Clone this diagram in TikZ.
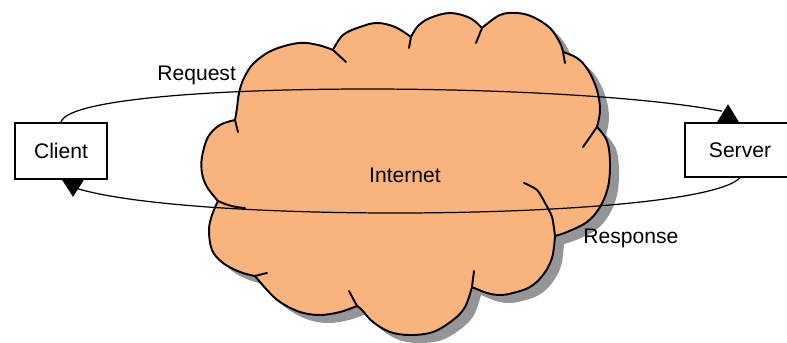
\documentclass[tikz,border=0pt]{standalone}
\usepackage{fontspec}
\setmainfont{Liberation Sans}
\usetikzlibrary{calc}

\definecolor{cloudfill}{RGB}{248,180,124}
\definecolor{cloudshade}{RGB}{147,149,152}

% cloud outline, one smooth plot per puff
\newcommand{\netcloud}{%
  plot[smooth,tension=0.6] coordinates {(235,-120) (237,-108) (239,-93) (244,-78) (254,-63) (273,-50) (299,-43) (318,-45) (333,-50)}
  -- plot[smooth,tension=0.6] coordinates {(333,-50) (343,-35) (360,-27) (377,-23) (395,-27) (411,-37)}
  -- plot[smooth,tension=0.6] coordinates {(411,-37) (418,-26) (430,-18) (450,-13) (470,-18) (482,-28)}
  -- plot[smooth,tension=0.6] coordinates {(482,-28) (500,-15) (517,-13) (533,-17) (550,-28) (560,-43) (563,-52)}
  -- plot[smooth,tension=0.6] coordinates {(563,-52) (577,-58) (588,-70) (597,-90) (600,-110) (597,-127)}
  -- plot[smooth,tension=0.6] coordinates {(597,-127) (607,-141) (610,-163) (608,-187) (600,-207) (587,-222) (567,-232) (555,-236)}
  -- plot[smooth,tension=0.6] coordinates {(555,-236) (552,-258) (543,-275) (530,-287) (513,-293) (500,-295) (487,-293) (472,-287)}
  -- plot[smooth,tension=0.6] coordinates {(472,-287) (465,-307) (453,-320) (433,-332) (410,-335) (390,-332) (373,-322) (362,-310) (357,-306)}
  -- plot[smooth,tension=0.6] coordinates {(357,-306) (340,-312) (320,-315) (300,-312) (280,-302) (267,-290) (255,-276)}
  -- plot[smooth,tension=0.6] coordinates {(255,-276) (240,-272) (223,-263) (212,-250) (209,-230) (212,-215) (218,-201)}
  -- plot[smooth,tension=0.6] coordinates {(218,-201) (207,-187) (202,-173) (202,-157) (208,-137) (220,-125) (235,-120)}
  -- cycle}

\begin{document}
\begin{tikzpicture}[
    x=0.2mm, y=0.2mm,
    box/.style  ={draw, fill=white, line width=0.9pt, minimum width=18.4mm, minimum height=11.2mm,
                  font=\fontsize{12}{14}\selectfont},
    lbl/.style  ={inner sep=0pt, font=\fontsize{12}{14}\selectfont},
    puff/.style ={line width=1.1pt, line join=round, line cap=round},
    link/.style ={line width=0.7pt},
]
\useasboundingbox (0,0) rectangle (787,-343);

% ── Cloud ───────────────────────────────────────────────────────────────
\fill[cloudshade, shift={(9,-8)}] \netcloud;
\fill[cloudfill] \netcloud;
\draw[puff] \netcloud;

% inner puff edges
\draw[puff] (235,-120) -- (238,-132);
\draw[puff] (333,-50)  -- (346,-62);
\draw[puff] (411,-37)  -- (409,-48);
\draw[puff] (482,-28)  -- (476,-43);
\draw[puff] (563,-52)  -- (565,-63);
\draw[puff] (597,-127) -- (583,-147);
\draw[puff] (472,-287) -- (474,-271);
\draw[puff] (357,-306) -- (349,-291);
\draw[puff] (255,-276) -- (267,-273);
\draw[puff] (218,-201) to[bend right=10] (245,-208);
\draw[puff] plot[smooth] coordinates {(555,-236) (552,-217) (545,-203) (537,-190) (524,-183)};

\node[lbl] (inet) at (405,-175) {Internet};

% ── Hosts ───────────────────────────────────────────────────────────────
\node[box] (client) at (61,-151) {Client};
\node[box, minimum width=22mm, minimum height=10.8mm] (server) at (740,-150) {Server};

% ── Request / response ──────────────────────────────────────────────────
\coordinate (reqend)  at ($(server.north)+(-18,11)$);
\coordinate (respend) at ($(client.south)+(17,-9)$);

\draw[link] (client.north) .. controls (72,-80) and (560,-80) .. (reqend);
\draw[link] (server.south) .. controls (700,-220) and (200,-225) .. (respend);

\fill ($(server.north)+(-23,0)$) -- ++(22,0) -- ++(-11,18) -- cycle;
\fill ($(client.south)+(1,0)$)   -- ++(22,0) -- ++(-11,-17) -- cycle;

\node[lbl, anchor=base west] (req)  at (157,-81)  {Request};
\node[lbl, anchor=base west] (resp) at (583,-244) {Response};

\end{tikzpicture}
\end{document}
